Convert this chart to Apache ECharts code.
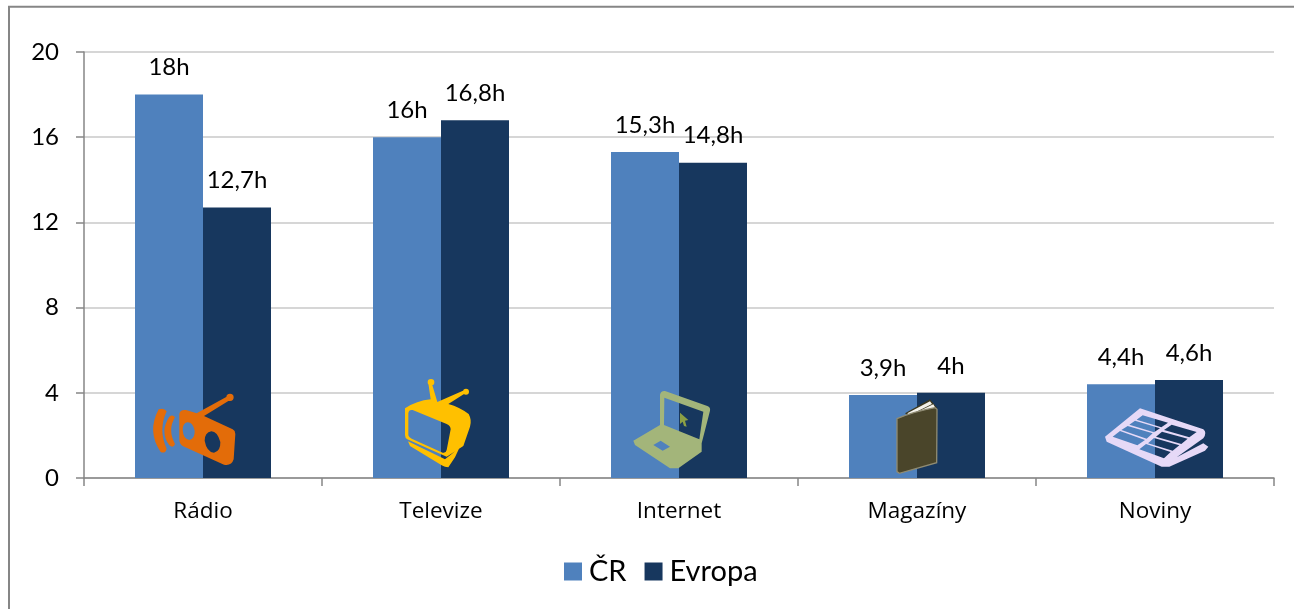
<!DOCTYPE html>
<html>
<head>
<meta charset="utf-8">
<title>Média</title>
<script src="https://cdn.jsdelivr.net/npm/echarts@6/dist/echarts.min.js"></script>
<style>
  html, body { margin: 0; padding: 0; background: #fff; }
  #chart { width: 1294px; height: 609px; }
</style>
</head>
<body>
<div id="chart"></div>
<script>
var categories = ['Rádio', 'Televize', 'Internet', 'Magazíny', 'Noviny'];
var crValues = [18, 16, 15.3, 3.9, 4.4];
var evropaValues = [12.7, 16.8, 14.8, 4, 4.6];
var yTicks = { min: 0, max: 20, interval: 4 };

var labelFont = 'Lato, sans-serif';
var categoryFont = '"Open Sans", sans-serif';

function hoursLabel(params) {
  return String(params.value).replace('.', ',') + 'h';
}

function barSeries(name, values, color) {
  return {
    name: name,
    type: 'bar',
    data: values,
    barWidth: 68,
    barGap: 0,
    itemStyle: { color: color },
    label: {
      show: true,
      position: 'top',
      distance: 15,
      formatter: hoursLabel,
      color: '#000',
      fontFamily: labelFont,
      fontSize: 24
    }
  };
}

// ikony jsou kreslene v souradnicich 3x zvetseneho vyrezu
function icon(ox, oy, pathData, fill, stroke) {
  return {
    type: 'path',
    x: ox,
    y: oy,
    scaleX: 1 / 3,
    scaleY: 1 / 3,
    shape: { pathData: pathData },
    style: { fill: fill, stroke: stroke || null, lineWidth: 4 }
  };
}

var radioIcon = 'M148 132 Q150 118 168 120 L200 130 L290 80 L300 90 L222 138 L308 178 Q316 182 316 192 L311 268 Q305 288 282 284 L158 228 Q148 222 148 208 Z' +
  ' M158 180 Q160 208 178 210 Q195 206 194 182 Q188 156 172 157 Q158 160 158 180 Z' +
  ' M224 212 Q230 246 252 248 Q272 244 271 216 Q262 184 244 184 Q224 188 224 212 Z' +
  ' M86 118 Q102 112 110 124 Q84 180 110 236 Q106 252 92 246 Q50 185 86 118 Z' +
  ' M118 140 Q128 132 135 142 Q112 180 135 222 Q130 236 118 226 Q88 185 118 140 Z' +
  ' M289 82 A11 11 0 1 1 311 82 A11 11 0 1 1 289 82 Z';

var tvIcon = 'M825 115 Q860 92 902 88 L895 40 L905 38 L922 96 L1004 60 L1008 68 L955 102 Q990 112 1016 132 Q1026 150 1020 170 L1000 228 L950 260 L832 208 Q825 204 825 195 Z' +
  ' M835 130 L835 196 Q836 202 845 206 L938 248 Q948 250 950 240 L962 178 Q962 168 950 162 L848 120 Q836 118 835 130 Z' +
  ' M893 37 A10 10 0 1 1 913 37 A10 10 0 1 1 893 37 Z' +
  ' M999 65 A9 9 0 1 1 1017 65 A9 9 0 1 1 999 65 Z' +
  ' M834 214 L945 268 L988 234 L975 262 L955 292 Q945 292 935 286 L840 228 Z';

var laptopIcon = 'M120 75 Q122 62 135 63 L262 108 Q272 112 270 122 L245 220 L245 245 L175 295 L150 295 L45 225 L40 212 L120 165 Z' +
  ' M133 83 L132 165 L238 208 L250 125 Z' +
  ' M100 225 L128 242 L150 230 L122 212 Z';
var cursorIcon = 'M180 128 L205 150 L195 152 L200 170 L192 168 L188 155 L180 162 Z';

var bookBack = 'M855 130 L930 88 L952 115 L870 140 Z';
var bookPages = 'M862 130 L930 94 L936 102 L868 136 Z M874 134 L940 103 L946 113 L884 138 Z';
var bookCover = 'M831 146 Q880 125 945 113 L951 118 L950 278 L838 310 L831 305 Z';

var newsIcon = 'M75 170 L180 85 L370 148 Q382 158 370 175 L290 232 L370 190 L385 200 L375 212 L268 260 L245 260 L80 185 Z' +
  ' M188 106 L170 119 L244 142 L264 128 Z' +
  ' M165 122 L148 134 L222 157 L240 145 Z' +
  ' M143 138 L124 150 L200 176 L218 160 Z' +
  ' M120 153 L98 170 L172 196 L195 180 Z' +
  ' M275 134 L252 150 L328 172 L350 156 Z' +
  ' M246 155 L228 170 L304 192 L323 176 Z' +
  ' M222 174 L204 190 L278 212 L298 196 Z' +
  ' M198 192 L178 208 L252 235 L272 216 Z';

var icons = [
  icon(130, 370, radioIcon, '#e36c09'),
  icon(130, 370, tvIcon, '#ffc000'),
  icon(620, 370, laptopIcon, '#a3b57a'),
  icon(620, 370, cursorIcon, '#8b9f45'),
  icon(620, 370, bookBack, '#3b3820'),
  icon(620, 370, bookPages, '#f4f2ea'),
  icon(620, 370, bookCover, '#4a452a', '#8f8b72'),
  icon(1080, 380, newsIcon, '#e6d9f7')
];

var chart = echarts.init(document.getElementById('chart'));
chart.setOption({
  animation: false,
  backgroundColor: '#fff',
  grid: { left: 84, right: 20, top: 52, bottom: 131, containLabel: false },
  legend: {
    data: ['ČR', 'Evropa'],
    left: 559,
    top: 552,
    icon: 'rect',
    itemWidth: 18,
    itemHeight: 18,
    itemGap: 18,
    textStyle: { color: '#000', fontFamily: labelFont, fontSize: 29, padding: [0, 0, 0, 2] }
  },
  xAxis: {
    type: 'category',
    data: categories,
    axisLine: { lineStyle: { color: '#868686', width: 1.5 } },
    axisTick: { show: true, length: 8, alignWithLabel: false, lineStyle: { color: '#868686', width: 1.5 } },
    axisLabel: { color: '#000', fontFamily: categoryFont, fontSize: 22.5, margin: 22 },
    splitLine: { show: false }
  },
  yAxis: {
    type: 'value',
    min: yTicks.min,
    max: yTicks.max,
    interval: yTicks.interval,
    axisLine: { show: true, lineStyle: { color: '#868686', width: 1.5 } },
    axisTick: { show: true, length: 8, lineStyle: { color: '#868686', width: 1.5 } },
    axisLabel: { color: '#000', fontFamily: labelFont, fontSize: 24, margin: 25 },
    splitLine: { show: true, lineStyle: { color: '#c8c8c8', width: 1.5 } }
  },
  series: [
    barSeries('ČR', crValues, '#4f81bd'),
    barSeries('Evropa', evropaValues, '#17375e'),
    {
      type: 'custom',
      coordinateSystem: 'none',
      data: [0],
      z: 20,
      silent: true,
      renderItem: function () {
        return { type: 'group', children: icons };
      }
    }
  ],
  graphic: [
    {
      type: 'rect',
      z: -1,
      shape: { x: 9, y: 6.75, width: 1400, height: 700 },
      style: { fill: 'none', stroke: '#868686', lineWidth: 2 }
    }
  ]
});
</script>
</body>
</html>
